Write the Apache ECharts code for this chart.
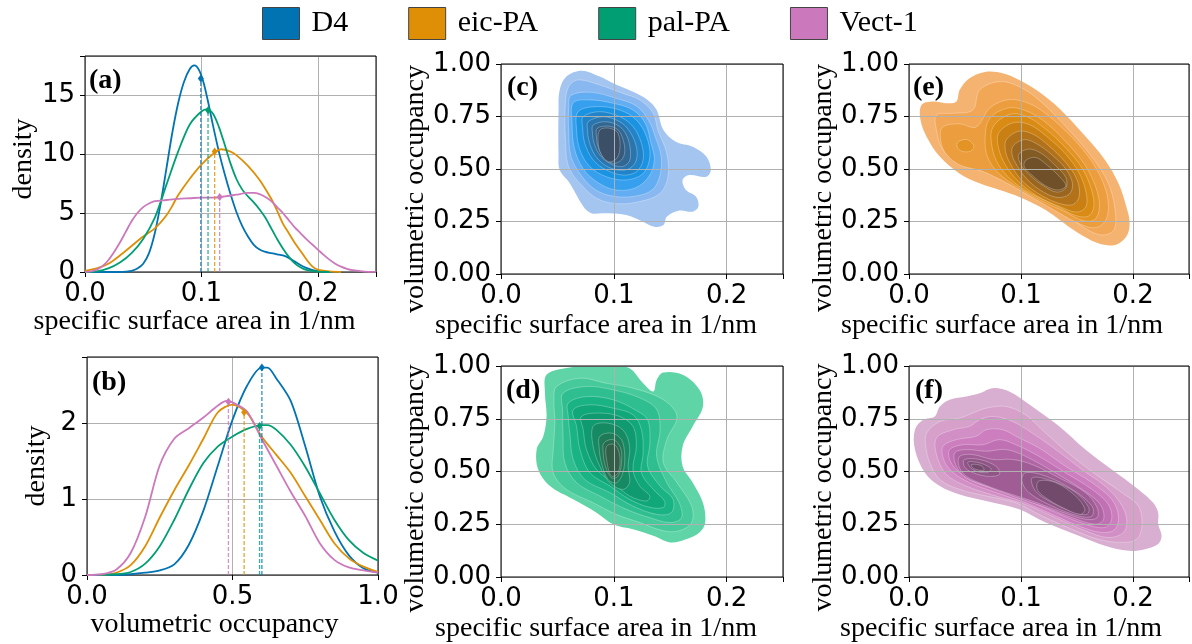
<!DOCTYPE html>
<html>
<head>
<meta charset="utf-8">
<script src="https://cdn.jsdelivr.net/npm/echarts@6/dist/echarts.min.js"></script>
<style>
  html, body { margin: 0; padding: 0; background: #fff; }
  #chart { width: 1192px; height: 644px; }
</style>
</head>
<body>
<div id="chart"></div>
<script>
// series names and colours (seaborn colorblind)
var names = ['D4', 'eic-PA', 'pal-PA', 'Vect-1'];
var colors = ['#0173b2', '#de8f05', '#029e73', '#cc78bc'];

// (a) density of specific surface area, [x, density]
var ssaD4 = [[0,0],[0.03,0],[0.035,0.03],[0.04,0.1],[0.045,0.3],[0.05,0.7],[0.055,1.6],[0.06,3.3],[0.065,5.8],[0.07,8.8],[0.075,11.8],[0.08,14.3],[0.085,16.1],[0.09,17.2],[0.094,17.5],[0.098,17.1],[0.102,16.0],[0.106,14.3],[0.11,12.4],[0.115,10.2],[0.12,8.3],[0.125,6.6],[0.13,5.1],[0.135,3.9],[0.14,3.0],[0.145,2.3],[0.15,1.9],[0.155,1.7],[0.16,1.6],[0.165,1.5],[0.17,1.4],[0.175,1.2],[0.18,0.9],[0.185,0.6],[0.19,0.35],[0.195,0.18],[0.2,0.08],[0.21,0.01],[0.22,0]];
var ssaEic = [[0,0.1],[0.01,0.3],[0.02,0.7],[0.03,1.4],[0.04,2.2],[0.05,3.0],[0.06,3.7],[0.065,4.2],[0.07,4.8],[0.075,5.6],[0.08,6.5],[0.09,7.9],[0.1,9.1],[0.11,10.0],[0.117,10.4],[0.125,10.2],[0.13,9.9],[0.14,9.0],[0.15,7.8],[0.16,6.2],[0.165,5.2],[0.17,4.1],[0.175,3.3],[0.18,2.5],[0.185,1.8],[0.19,1.1],[0.195,0.5],[0.2,0.2],[0.21,0.05],[0.22,0]];
var ssaPal = [[0,0],[0.01,0.05],[0.02,0.3],[0.03,0.8],[0.04,1.6],[0.05,2.8],[0.06,4.6],[0.07,7.4],[0.08,10.2],[0.09,12.5],[0.1,13.6],[0.105,13.8],[0.11,13.4],[0.115,12.3],[0.12,10.8],[0.125,9.2],[0.13,7.9],[0.135,7.0],[0.14,6.4],[0.145,5.9],[0.15,5.3],[0.155,4.6],[0.16,3.7],[0.165,2.8],[0.17,2.0],[0.175,1.3],[0.18,0.75],[0.185,0.4],[0.19,0.18],[0.2,0.03],[0.21,0]];
var ssaVect = [[0,0],[0.005,0.05],[0.01,0.2],[0.015,0.5],[0.02,1.0],[0.025,1.7],[0.03,2.5],[0.035,3.4],[0.04,4.3],[0.045,5.0],[0.05,5.5],[0.055,5.8],[0.06,6.0],[0.07,6.1],[0.08,6.2],[0.09,6.25],[0.1,6.3],[0.11,6.3],[0.12,6.4],[0.13,6.55],[0.14,6.7],[0.145,6.7],[0.15,6.6],[0.155,6.35],[0.16,6.0],[0.165,5.5],[0.17,5.0],[0.175,4.4],[0.18,3.8],[0.185,3.3],[0.19,2.8],[0.195,2.35],[0.2,1.9],[0.205,1.45],[0.21,1.05],[0.215,0.7],[0.22,0.45],[0.225,0.27],[0.23,0.15],[0.24,0.04],[0.25,0.01]];
var ssaMean = [[0.0995,16.4],[0.1114,10.2],[0.1057,13.7],[0.1157,6.35]];

// (b) density of volumetric occupancy, [x, density]
var voD4 = [[0,0],[0.1,0],[0.15,0.01],[0.2,0.03],[0.25,0.06],[0.3,0.14],[0.35,0.4],[0.4,0.85],[0.45,1.45],[0.5,2.05],[0.55,2.5],[0.6,2.74],[0.62,2.74],[0.65,2.6],[0.7,2.3],[0.75,1.7],[0.8,1.04],[0.85,0.58],[0.9,0.26],[0.95,0.09],[1.0,0.03]];
var voEic = [[0,0],[0.05,0],[0.1,0.03],[0.15,0.13],[0.2,0.38],[0.25,0.76],[0.3,1.12],[0.35,1.45],[0.4,1.8],[0.45,2.15],[0.5,2.25],[0.55,2.14],[0.6,1.83],[0.65,1.59],[0.7,1.35],[0.75,1.04],[0.8,0.73],[0.85,0.42],[0.9,0.22],[0.95,0.11],[1.0,0.04]];
var voPal = [[0,0],[0.1,0.01],[0.15,0.04],[0.2,0.15],[0.25,0.38],[0.3,0.73],[0.35,1.13],[0.4,1.48],[0.45,1.7],[0.5,1.83],[0.55,1.93],[0.6,1.98],[0.62,1.98],[0.65,1.92],[0.7,1.72],[0.75,1.43],[0.8,1.08],[0.85,0.73],[0.9,0.46],[0.95,0.29],[1.0,0.19]];
var voVect = [[0,0],[0.05,0.01],[0.1,0.07],[0.15,0.29],[0.2,0.77],[0.25,1.45],[0.3,1.8],[0.35,1.94],[0.4,2.08],[0.45,2.24],[0.48,2.3],[0.5,2.28],[0.55,2.16],[0.6,1.8],[0.65,1.45],[0.7,1.1],[0.75,0.78],[0.8,0.42],[0.85,0.2],[0.9,0.1],[0.95,0.06],[1.0,0.03]];
var voMean = [[0.601,2.74],[0.54,2.15],[0.593,1.97],[0.486,2.29]];

// (c)-(f) 2d density contours: levels (outer to inner), each a list of closed outlines [ssa, vo]
var contD4 = [
  [[[0.058,0.94],[0.0714,0.968],[0.0876,0.94],[0.0994,0.908],[0.117,0.868],[0.130,0.829],[0.138,0.781],[0.144,0.686],[0.155,0.630],[0.170,0.606],[0.182,0.559],[0.186,0.495],[0.182,0.463],[0.167,0.471],[0.161,0.448],[0.164,0.40],[0.173,0.368],[0.175,0.321],[0.170,0.297],[0.158,0.302],[0.147,0.273],[0.144,0.233],[0.136,0.225],[0.126,0.249],[0.111,0.281],[0.0906,0.289],[0.080,0.289],[0.073,0.321],[0.061,0.432],[0.052,0.495],[0.051,0.559],[0.051,0.781],[0.052,0.876]]],
  [[[0.060,0.892],[0.0684,0.924],[0.0876,0.90],[0.108,0.86],[0.123,0.829],[0.135,0.765],[0.139,0.686],[0.147,0.574],[0.148,0.463],[0.141,0.384],[0.123,0.345],[0.102,0.335],[0.085,0.36],[0.072,0.42],[0.060,0.51],[0.057,0.654],[0.057,0.813]]],
  [[[0.062,0.85],[0.080,0.865],[0.103,0.835],[0.120,0.80],[0.131,0.73],[0.137,0.65],[0.142,0.56],[0.141,0.47],[0.134,0.40],[0.118,0.37],[0.100,0.37],[0.084,0.40],[0.071,0.47],[0.062,0.56],[0.060,0.68],[0.060,0.79]]],
  [[[0.064,0.815],[0.0787,0.829],[0.0994,0.813],[0.117,0.781],[0.128,0.717],[0.133,0.622],[0.136,0.543],[0.131,0.463],[0.119,0.41],[0.102,0.40],[0.086,0.435],[0.073,0.50],[0.065,0.60],[0.063,0.72]]],
  [[[0.0684,0.773],[0.0846,0.797],[0.1053,0.781],[0.120,0.733],[0.129,0.654],[0.132,0.559],[0.126,0.479],[0.1112,0.448],[0.0935,0.463],[0.0788,0.511],[0.070,0.590],[0.067,0.686]]],
  [[[0.0728,0.749],[0.0876,0.773],[0.1053,0.749],[0.117,0.702],[0.1245,0.622],[0.126,0.543],[0.120,0.487],[0.1083,0.471],[0.0935,0.495],[0.0817,0.543],[0.0743,0.622],[0.0723,0.702]]],
  [[[0.0773,0.725],[0.0906,0.749],[0.1053,0.725],[0.1142,0.678],[0.120,0.606],[0.120,0.543],[0.1142,0.503],[0.1038,0.495],[0.092,0.519],[0.0832,0.567],[0.0782,0.630],[0.0767,0.686]]],
  [[[0.0817,0.709],[0.0935,0.725],[0.1053,0.702],[0.1118,0.654],[0.1147,0.590],[0.1136,0.535],[0.1068,0.511],[0.0964,0.527],[0.0876,0.567],[0.0826,0.622],[0.0811,0.670]]],
  [[[0.0852,0.693],[0.095,0.704],[0.1038,0.686],[0.1083,0.638],[0.1097,0.582],[0.1068,0.543],[0.0994,0.527],[0.0911,0.555],[0.0861,0.606],[0.0846,0.654]]],
  [[[0.0876,0.686],[0.0964,0.694],[0.1038,0.670],[0.1053,0.590],[0.1018,0.546],[0.095,0.535],[0.0885,0.574],[0.0861,0.630]]]
];
var contEic = [
  [[[0.0112,0.805],[0.0216,0.821],[0.0334,0.813],[0.0423,0.821],[0.0452,0.876],[0.054,0.932],[0.0689,0.963],[0.0836,0.956],[0.0984,0.924],[0.116,0.868],[0.134,0.789],[0.155,0.670],[0.175,0.543],[0.187,0.432],[0.194,0.321],[0.197,0.241],[0.194,0.178],[0.184,0.138],[0.169,0.146],[0.149,0.202],[0.122,0.305],[0.098,0.368],[0.081,0.40],[0.063,0.432],[0.045,0.479],[0.0275,0.559],[0.0157,0.654],[0.0103,0.733]]],
  [[[0.0245,0.757],[0.0393,0.765],[0.057,0.781],[0.063,0.876],[0.0807,0.916],[0.0984,0.892],[0.116,0.829],[0.140,0.702],[0.163,0.559],[0.178,0.432],[0.184,0.305],[0.183,0.21],[0.172,0.186],[0.155,0.225],[0.128,0.337],[0.104,0.432],[0.0866,0.479],[0.0689,0.511],[0.045,0.527],[0.0304,0.590],[0.0245,0.686]]],
  [[[0.030,0.70],[0.045,0.715],[0.060,0.70],[0.072,0.79],[0.088,0.83],[0.103,0.82],[0.118,0.78],[0.140,0.68],[0.160,0.56],[0.173,0.44],[0.178,0.33],[0.175,0.25],[0.165,0.22],[0.150,0.245],[0.128,0.31],[0.105,0.38],[0.085,0.44],[0.065,0.49],[0.045,0.52],[0.032,0.58],[0.028,0.65]]],
  [[[0.044,0.63],[0.052,0.64],[0.058,0.61],[0.055,0.585],[0.047,0.585],[0.043,0.605]],
   [[0.072,0.74],[0.088,0.79],[0.103,0.78],[0.120,0.73],[0.140,0.63],[0.157,0.52],[0.167,0.41],[0.170,0.32],[0.166,0.26],[0.155,0.255],[0.138,0.30],[0.118,0.35],[0.098,0.41],[0.080,0.48],[0.070,0.56],[0.068,0.65]]],
  [[[0.075,0.70],[0.090,0.76],[0.105,0.75],[0.122,0.69],[0.140,0.60],[0.155,0.50],[0.163,0.40],[0.165,0.32],[0.160,0.275],[0.148,0.28],[0.130,0.33],[0.110,0.38],[0.093,0.44],[0.080,0.52],[0.074,0.61]]],
  [[[0.080,0.67],[0.093,0.72],[0.108,0.71],[0.124,0.65],[0.140,0.57],[0.152,0.48],[0.158,0.39],[0.158,0.32],[0.150,0.295],[0.135,0.32],[0.115,0.37],[0.098,0.44],[0.086,0.52],[0.080,0.60]]],
  [[[0.087,0.64],[0.098,0.68],[0.111,0.665],[0.125,0.61],[0.140,0.53],[0.150,0.45],[0.152,0.37],[0.146,0.33],[0.132,0.34],[0.115,0.385],[0.100,0.45],[0.090,0.53],[0.086,0.59]]],
  [[[0.093,0.61],[0.103,0.64],[0.114,0.62],[0.127,0.57],[0.140,0.50],[0.146,0.43],[0.143,0.38],[0.132,0.365],[0.117,0.40],[0.104,0.46],[0.095,0.53],[0.092,0.57]]],
  [[[0.098,0.57],[0.107,0.595],[0.118,0.575],[0.130,0.52],[0.140,0.46],[0.140,0.41],[0.132,0.39],[0.120,0.42],[0.108,0.47],[0.100,0.52]]],
  [[[0.104,0.54],[0.113,0.555],[0.123,0.52],[0.135,0.46],[0.140,0.42],[0.133,0.40],[0.122,0.42],[0.110,0.47],[0.103,0.51]]]
];
var contPal = [
  [[[0.039,0.871],[0.0404,0.958],[0.058,0.99],[0.0758,1.0],[0.0994,1.0],[0.114,0.989],[0.126,0.918],[0.135,0.879],[0.138,0.934],[0.144,0.969],[0.161,0.958],[0.176,0.887],[0.179,0.808],[0.170,0.714],[0.161,0.619],[0.161,0.525],[0.170,0.447],[0.179,0.352],[0.181,0.258],[0.176,0.211],[0.164,0.179],[0.150,0.164],[0.135,0.195],[0.117,0.226],[0.0994,0.25],[0.0847,0.305],[0.064,0.368],[0.0434,0.431],[0.033,0.509],[0.0316,0.604],[0.0375,0.667],[0.0404,0.761]]],
  [[[0.0469,0.84],[0.0493,0.903],[0.070,0.942],[0.0935,0.918],[0.117,0.895],[0.144,0.84],[0.156,0.761],[0.147,0.651],[0.144,0.541],[0.156,0.447],[0.169,0.336],[0.169,0.258],[0.158,0.219],[0.144,0.219],[0.123,0.258],[0.102,0.297],[0.0817,0.352],[0.058,0.415],[0.0463,0.494],[0.0463,0.604],[0.0478,0.73]]],
  [[[0.0546,0.792],[0.055,0.871],[0.0758,0.903],[0.0994,0.887],[0.123,0.849],[0.138,0.794],[0.141,0.698],[0.138,0.572],[0.147,0.447],[0.158,0.352],[0.160,0.281],[0.150,0.258],[0.132,0.281],[0.111,0.321],[0.0876,0.384],[0.067,0.447],[0.0566,0.541],[0.055,0.667]]],
  [[[0.0596,0.761],[0.0596,0.824],[0.0758,0.855],[0.0994,0.84],[0.120,0.789],[0.130,0.745],[0.132,0.635],[0.130,0.525],[0.141,0.431],[0.1525,0.368],[0.151,0.305],[0.138,0.297],[0.117,0.336],[0.0965,0.40],[0.0743,0.462],[0.064,0.557],[0.061,0.682]]],
  [[[0.064,0.792],[0.0788,0.816],[0.0994,0.80],[0.117,0.769],[0.1245,0.698],[0.126,0.588],[0.1245,0.494],[0.135,0.415],[0.145,0.36],[0.144,0.33],[0.132,0.33],[0.114,0.368],[0.0965,0.431],[0.0788,0.494],[0.070,0.604],[0.067,0.714]]],
  [[[0.0714,0.761],[0.0876,0.777],[0.105,0.761],[0.117,0.714],[0.120,0.619],[0.117,0.509],[0.123,0.431],[0.132,0.384],[0.129,0.36],[0.114,0.384],[0.0994,0.447],[0.0847,0.509],[0.0758,0.604],[0.0729,0.698]]],
  [[[0.0817,0.714],[0.0935,0.73],[0.108,0.698],[0.114,0.619],[0.1127,0.525],[0.114,0.447],[0.108,0.415],[0.0965,0.447],[0.0876,0.525],[0.0817,0.619]]],
  [[[0.0876,0.667],[0.098,0.682],[0.1068,0.651],[0.1097,0.572],[0.108,0.494],[0.1024,0.447],[0.095,0.462],[0.0891,0.541],[0.087,0.612]]],
  [[[0.0912,0.635],[0.0994,0.651],[0.106,0.612],[0.1068,0.541],[0.1038,0.478],[0.098,0.47],[0.0926,0.525],[0.0906,0.588]]],
  [[[0.0935,0.619],[0.1009,0.627],[0.1053,0.572],[0.1038,0.494],[0.098,0.478],[0.0941,0.541]]]
];
var contVect = [
  [[[0.0053,0.698],[0.0127,0.745],[0.023,0.761],[0.0275,0.808],[0.0363,0.840],[0.0511,0.855],[0.063,0.871],[0.0748,0.895],[0.0895,0.879],[0.110,0.808],[0.134,0.714],[0.1575,0.604],[0.181,0.509],[0.2048,0.415],[0.218,0.352],[0.2225,0.305],[0.2225,0.25],[0.2255,0.195],[0.2225,0.156],[0.2107,0.132],[0.196,0.124],[0.175,0.148],[0.1516,0.195],[0.122,0.258],[0.0984,0.321],[0.0689,0.36],[0.0452,0.391],[0.0275,0.431],[0.0142,0.494],[0.0053,0.604]]],
  [[[0.0157,0.682],[0.0275,0.737],[0.0452,0.753],[0.057,0.777],[0.0689,0.80],[0.0866,0.808],[0.104,0.769],[0.122,0.682],[0.1457,0.572],[0.169,0.478],[0.190,0.40],[0.2048,0.336],[0.208,0.242],[0.2033,0.179],[0.190,0.164],[0.169,0.179],[0.1457,0.226],[0.119,0.289],[0.0954,0.352],[0.0689,0.384],[0.0452,0.415],[0.0275,0.462],[0.0186,0.541],[0.015,0.619]]],
  [[[0.0245,0.659],[0.0393,0.698],[0.054,0.714],[0.063,0.745],[0.0748,0.761],[0.0925,0.737],[0.110,0.682],[0.131,0.604],[0.1545,0.509],[0.175,0.431],[0.1885,0.352],[0.1944,0.274],[0.1915,0.211],[0.178,0.187],[0.1575,0.219],[0.131,0.281],[0.104,0.344],[0.0777,0.384],[0.0511,0.431],[0.0334,0.486],[0.025,0.572]]],
  [[[0.0304,0.619],[0.0423,0.651],[0.060,0.667],[0.0689,0.698],[0.0836,0.698],[0.0984,0.659],[0.116,0.612],[0.1398,0.525],[0.1634,0.447],[0.181,0.368],[0.187,0.289],[0.184,0.226],[0.172,0.211],[0.1516,0.242],[0.128,0.297],[0.104,0.352],[0.0777,0.40],[0.054,0.447],[0.0378,0.502],[0.031,0.557]]],
  [[[0.0363,0.604],[0.0482,0.627],[0.0659,0.627],[0.0807,0.651],[0.0954,0.627],[0.116,0.572],[0.1398,0.494],[0.1634,0.415],[0.178,0.344],[0.181,0.274],[0.175,0.235],[0.1575,0.25],[0.131,0.305],[0.104,0.368],[0.0777,0.415],[0.057,0.454],[0.0423,0.509],[0.0363,0.557]]],
  [[[0.0408,0.588],[0.0511,0.604],[0.0689,0.596],[0.0866,0.604],[0.104,0.572],[0.128,0.502],[0.1545,0.415],[0.1708,0.344],[0.1738,0.274],[0.1665,0.25],[0.1457,0.281],[0.119,0.336],[0.0925,0.384],[0.0689,0.431],[0.0511,0.47],[0.0423,0.525]]],
  [[[0.0452,0.572],[0.057,0.58],[0.0748,0.557],[0.0925,0.557],[0.110,0.533],[0.134,0.47],[0.1575,0.40],[0.168,0.329],[0.168,0.281],[0.1575,0.274],[0.134,0.313],[0.110,0.36],[0.0866,0.40],[0.0659,0.44],[0.0511,0.478],[0.0446,0.525]]],
  [[[0.0496,0.557],[0.063,0.557],[0.0777,0.525],[0.0807,0.486],[0.0689,0.478],[0.054,0.502],[0.049,0.528]],
   [[0.104,0.494],[0.122,0.478],[0.1457,0.415],[0.1634,0.336],[0.1634,0.289],[0.1516,0.289],[0.128,0.336],[0.107,0.40],[0.1008,0.456]]],
  [[[0.0526,0.544],[0.063,0.541],[0.0733,0.513],[0.0689,0.494],[0.057,0.509]],
   [[0.110,0.47],[0.128,0.455],[0.1487,0.40],[0.1605,0.329],[0.159,0.297],[0.1487,0.305],[0.128,0.352],[0.113,0.407]]],
  [[[0.0556,0.533],[0.0644,0.528],[0.067,0.506],[0.058,0.513]],
   [[0.116,0.455],[0.131,0.447],[0.1487,0.384],[0.157,0.322],[0.153,0.297],[0.137,0.329],[0.122,0.376],[0.1145,0.415]]]
];

// fill shades, light to dark
var shadesD4 = ['#a3c5ef','#89b8f0','#63adf2','#36a0ef','#1a93e2','#2184c9','#2a75ae','#316793','#365a7b','#3b4f66'];
var shadesEic = ['#f5b372','#f2a756','#ec9d3d','#e39424','#d98b13','#c97f12','#b27219','#99651f','#825a24','#6f5028'];
var shadesPal = ['#5fd4a7','#46ca9b','#2fbe8f','#1ab383','#10a779','#0f9a6f','#168a63','#1f7a58','#296b4f','#335e48'];
var shadesVect = ['#d9afd1','#d6a0cb','#d18fc5','#cc7ebe','#c071b3','#b066a4','#a05d95','#8f5586','#7f4e79','#724a6c'];

var SANS = 'DejaVu Sans';
var SERIF = 'Liberation Serif';

var grids = [
    {left: 85, top: 56, width: 291, height: 216},   // a
    {left: 501, top: 64, width: 282, height: 210},  // c
    {left: 909, top: 64, width: 282, height: 210},  // e
    {left: 87, top: 357, width: 291, height: 218},  // b
    {left: 501, top: 366, width: 282, height: 212}, // d
    {left: 909, top: 366, width: 282, height: 212}  // f
].map(function (g) {
    return Object.assign({show: true, z: 4, borderColor: '#000', borderWidth: 1, backgroundColor: 'transparent'}, g);
});

// namePad shifts the axis title along the axis (matplotlib placed them off-centre)
function axis(i, max, interval, digits, name, gap, isX, namePad) {
    return {
        type: 'value', gridIndex: i, min: 0, max: max, interval: interval,
        name: name, nameLocation: 'middle', nameGap: gap,
        nameTextStyle: {fontFamily: SERIF, fontSize: 28, color: '#000',
            padding: namePad > 0 ? [0, namePad, 0, 0] : [0, 0, 0, -namePad]},
        axisLine: {show: false},
        axisTick: {length: 5, lineStyle: {color: '#000', width: 1}},
        axisLabel: {
            fontFamily: SANS, fontSize: 26, color: '#000', margin: isX ? 9 : 10,
            formatter: function (v) {
                var r = v / interval;
                if (Math.abs(r - Math.round(r)) > 1e-6) return '';
                return v.toFixed(digits);
            }
        },
        splitLine: {lineStyle: {color: '#b0b0b0', width: 1}},
        z: 3
    };
}

var ssaName = 'specific surface area in 1/nm';
var voName = 'volumetric occupancy';

var xAxes = [
    axis(0, 0.25, 0.1, 1, ssaName, 36, true, 72),
    axis(1, 0.25, 0.1, 1, ssaName, 38, true, 92),
    axis(2, 0.25, 0.1, 1, ssaName, 38, true, 94),
    axis(3, 1, 0.5, 1, voName, 32, true, 36),
    axis(4, 0.25, 0.1, 1, ssaName, 38, true, 92),
    axis(5, 0.25, 0.1, 1, ssaName, 38, true, 96)
];
var yAxes = [
    axis(0, 18.3, 5, 0, 'density', 40, false, -10),
    axis(1, 1, 0.25, 2, voName, 68, false, 40),
    axis(2, 1, 0.25, 2, voName, 68, false, 38),
    axis(3, 2.88, 1, 0, 'density', 36, false, 0),
    axis(4, 1, 0.25, 2, voName, 68, false, 34),
    axis(5, 1, 0.25, 2, voName, 68, false, 32)
];

var series = [];

function kdeLines(gi, sets, means) {
    sets.forEach(function (d, k) {
        series.push({
            name: names[k], type: 'line', xAxisIndex: gi, yAxisIndex: gi,
            data: d, smooth: 0.3, symbol: 'none', color: colors[k],
            lineStyle: {width: 1.8}, z: 5, animation: false
        });
    });
    means.forEach(function (m, k) {
        series.push({
            type: 'line', xAxisIndex: gi, yAxisIndex: gi, color: colors[k],
            data: [{value: [m[0], 0], symbolSize: 0}, {value: m, symbolSize: [6, 8]}],
            symbol: 'diamond', showSymbol: true,
            lineStyle: {width: 1.3, type: [4, 2], opacity: 0.8},
            itemStyle: {color: colors[k]}, z: 6, animation: false
        });
    });
}

function contours(gi, levels, shades) {
    var items = [];
    levels.forEach(function (lv, i) {
        lv.forEach(function (poly) { items.push({level: i, poly: poly}); });
    });
    series.push({
        type: 'custom', xAxisIndex: gi, yAxisIndex: gi, clip: true, silent: true,
        data: items.map(function (it, k) { return [k]; }),
        renderItem: function (params, api) {
            var it = items[params.dataIndex];
            var pts = it.poly.map(function (p) { return api.coord(p); });
            return {
                type: 'polygon',
                shape: {points: pts, smooth: 0.35},
                style: {
                    fill: shades[it.level],
                    stroke: it.level > 0 ? 'rgba(255,255,255,0.35)' : null,
                    lineWidth: 0.8
                }
            };
        },
        z: 2, animation: false
    });
}

kdeLines(0, [ssaD4, ssaEic, ssaPal, ssaVect], ssaMean);
kdeLines(3, [voD4, voEic, voPal, voVect], voMean);
contours(1, contD4, shadesD4);
contours(2, contEic, shadesEic);
contours(4, contPal, shadesPal);
contours(5, contVect, shadesVect);

function panelLabel(text, x, y) {
    return {type: 'text', left: x, top: y, z: 10,
        style: {text: text, font: 'bold 28px "Liberation Serif"', fill: '#000'}};
}

var option = {
    backgroundColor: '#fff',
    animation: false,
    legend: {
        data: names, top: 7, left: 262, padding: 0, icon: 'rect',
        itemWidth: 37, itemHeight: 32, itemGap: 60,
        itemStyle: {borderColor: '#444', borderWidth: 1},
        textStyle: {fontFamily: SERIF, fontSize: 30, color: '#000', padding: [0, 0, 0, 7]},
        selectedMode: false
    },
    grid: grids,
    xAxis: xAxes,
    yAxis: yAxes,
    series: series,
    graphic: [
        panelLabel('(a)', 89, 67),
        panelLabel('(b)', 92, 369),
        panelLabel('(c)', 507, 74),
        panelLabel('(e)', 913, 74),
        panelLabel('(d)', 506, 377),
        panelLabel('(f)', 915, 377)
    ]
};

var chart = echarts.init(document.getElementById('chart'), null, {renderer: 'canvas'});
chart.setOption(option);
</script>
</body>
</html>
